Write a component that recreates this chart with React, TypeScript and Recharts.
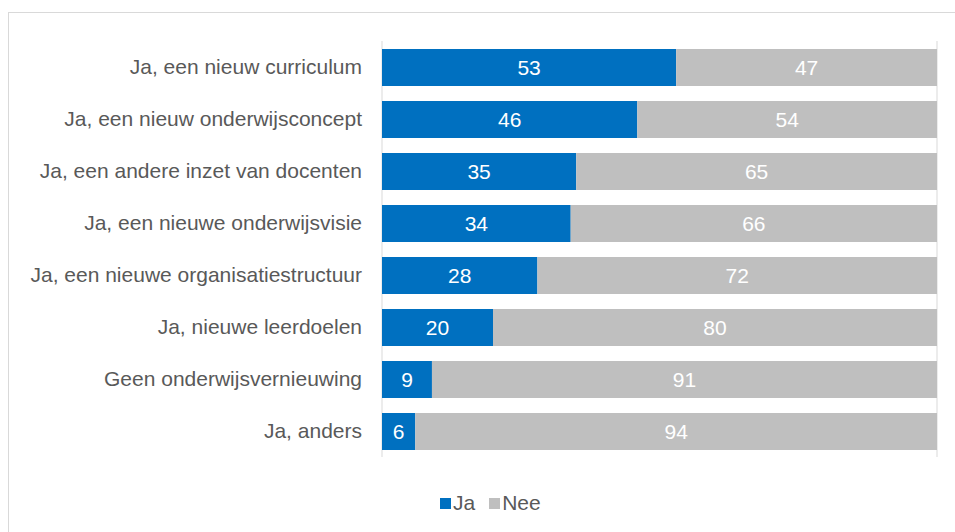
import React from 'react';
import { BarChart, Bar, XAxis, YAxis, CartesianGrid, LabelList } from 'recharts';

const categories = [
  'Ja, een nieuw curriculum',
  'Ja, een nieuw onderwijsconcept',
  'Ja, een andere inzet van docenten',
  'Ja, een nieuwe onderwijsvisie',
  'Ja, een nieuwe organisatiestructuur',
  'Ja, nieuwe leerdoelen',
  'Geen onderwijsvernieuwing',
  'Ja, anders',
];
const jaValues = [53, 46, 35, 34, 28, 20, 9, 6];
const neeValues = [47, 54, 65, 66, 72, 80, 91, 94];
const xTicks = [0, 10, 20, 30, 40, 50, 60, 70, 80, 90, 100];

const data = categories.map((c, i) => ({ name: c, Ja: jaValues[i], Nee: neeValues[i] }));

const FONT = '"Liberation Sans", Arial, sans-serif';
const BLUE = '#0070C0';
const GRAY = '#BFBFBF';

export default function App() {
  return (
    <div style={{ position: 'absolute', left: 0, top: 0, width: 955, height: 532, overflow: 'hidden', background: '#fff', fontFamily: FONT }}>
      <div style={{ position: 'absolute', left: 8, top: 12, width: 1000, height: 600, border: '1px solid #d9d9d9', boxSizing: 'border-box' }} />
      <div style={{ position: 'absolute', left: 0, top: 0 }}>
        <BarChart
          width={955}
          height={532}
          data={data}
          layout="vertical"
          margin={{ top: 41, right: 18, bottom: 75, left: 0 }}
          barSize={37}
        >
          <CartesianGrid horizontal={false} vertical={true} stroke="#d9d9d9" strokeWidth={1} />
          <XAxis type="number" domain={[0, 100]} ticks={xTicks} tick={false} axisLine={false} tickLine={false} height={0} />
          <YAxis
            type="category"
            dataKey="name"
            width={382}
            axisLine={false}
            tickLine={false}
            tickSize={0}
            tickMargin={20}
            tick={{ fill: '#595959', fontSize: 21, fontFamily: FONT }}
          />
          <Bar dataKey="Ja" stackId="a" fill={BLUE} isAnimationActive={false}>
            <LabelList dataKey="Ja" position="center" fill="#ffffff" fontSize={21} fontFamily={FONT} />
          </Bar>
          <Bar dataKey="Nee" stackId="a" fill={GRAY} isAnimationActive={false}>
            <LabelList dataKey="Nee" position="center" fill="#ffffff" fontSize={21} fontFamily={FONT} />
          </Bar>
        </BarChart>
      </div>
      <div style={{ position: 'absolute', left: 440, top: 490, display: 'flex', alignItems: 'center', fontSize: 21, lineHeight: '26px', color: '#595959', fontFamily: FONT }}>
        <span style={{ display: 'inline-block', width: 11, height: 11, background: BLUE, marginRight: 2 }} />
        <span style={{ marginRight: 14 }}>Ja</span>
        <span style={{ display: 'inline-block', width: 11, height: 11, background: GRAY, marginRight: 2 }} />
        <span>Nee</span>
      </div>
    </div>
  );
}
